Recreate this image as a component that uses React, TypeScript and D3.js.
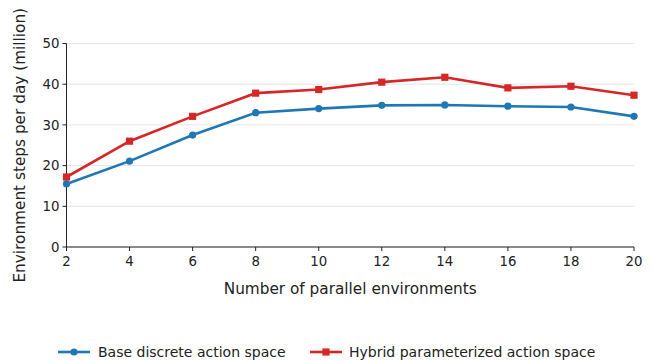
import React from "react";
import * as d3 from "d3";

const envCounts = [2, 4, 6, 8, 10, 12, 14, 16, 18, 20];
const baseSteps = [15.5, 21.1, 27.5, 33.0, 34.0, 34.8, 34.9, 34.6, 34.4, 32.1];
const hybridSteps = [17.2, 26.0, 32.1, 37.8, 38.7, 40.5, 41.7, 39.1, 39.5, 37.3];
const yTicks = [0, 10, 20, 30, 40, 50];
const seriesNames = ["Base discrete action space", "Hybrid parameterized action space"];

const BLUE = "#1f77b4";
const RED = "#d62728";
const FONT = "DejaVu Sans, sans-serif";

const App = () => {
  const width = 655;
  const height = 361;
  const left = 66.5;
  const right = 634;
  const top = 43.5;
  const bottom = 247;

  const x = d3.scaleLinear().domain([2, 20]).range([left, right]);
  const y = d3.scaleLinear().domain([0, 50]).range([bottom, top]);

  const line = d3
    .line<number>()
    .x((_, i) => x(envCounts[i]))
    .y((d) => y(d));

  return (
    <svg
      width={width}
      height={height}
      style={{ position: "absolute", left: 0, top: 0, background: "#fff" }}
      fontFamily={FONT}
    >
      {/* grid */}
      {yTicks.map((t) => (
        <line key={"g" + t} x1={left} x2={right} y1={y(t)} y2={y(t)} stroke="#e3e5ea" strokeWidth={1} />
      ))}

      {/* axes */}
      <line x1={left} x2={left} y1={top} y2={bottom} stroke="#222" strokeWidth={1} />
      <line x1={left} x2={right} y1={bottom} y2={bottom} stroke="#222" strokeWidth={1} />
      {yTicks.map((t) => (
        <g key={"y" + t}>
          <line x1={left - 4} x2={left} y1={y(t)} y2={y(t)} stroke="#222" />
          <text x={left - 7} y={y(t)} dy="0.35em" textAnchor="end" fontSize={13.3} fill="#222">
            {t}
          </text>
        </g>
      ))}
      {envCounts.map((t) => (
        <g key={"x" + t}>
          <line x1={x(t)} x2={x(t)} y1={bottom} y2={bottom + 4} stroke="#222" />
          <text x={x(t)} y={bottom + 19} textAnchor="middle" fontSize={13.3} fill="#222">
            {t}
          </text>
        </g>
      ))}

      <text x={(left + right) / 2} y={294} textAnchor="middle" fontSize={15.3} fill="#222">
        Number of parallel environments
      </text>
      <text
        transform={`translate(25, ${(top + bottom) / 2}) rotate(-90)`}
        textAnchor="middle"
        fontSize={15.3}
        fill="#222"
      >
        Environment steps per day (million)
      </text>

      {/* series */}
      <path d={line(baseSteps) || ""} fill="none" stroke={BLUE} strokeWidth={2.6} />
      {baseSteps.map((v, i) => (
        <circle key={"b" + i} cx={x(envCounts[i])} cy={y(v)} r={3.6} fill={BLUE} />
      ))}
      <path d={line(hybridSteps) || ""} fill="none" stroke={RED} strokeWidth={2.6} />
      {hybridSteps.map((v, i) => (
        <rect key={"h" + i} x={x(envCounts[i]) - 3.6} y={y(v) - 3.6} width={7.2} height={7.2} fill={RED} />
      ))}

      {/* legend */}
      <g>
        <line x1={58} x2={90} y1={352} y2={352} stroke={BLUE} strokeWidth={2.6} />
        <circle cx={74} cy={352} r={3.6} fill={BLUE} />
        <text x={98} y={352} dy="0.35em" fontSize={14} fill="#222">
          {seriesNames[0]}
        </text>
        <line x1={310} x2={342} y1={352} y2={352} stroke={RED} strokeWidth={2.6} />
        <rect x={322.4} y={348.4} width={7.2} height={7.2} fill={RED} />
        <text x={349} y={352} dy="0.35em" fontSize={14} fill="#222">
          {seriesNames[1]}
        </text>
      </g>
    </svg>
  );
};

export default App;
